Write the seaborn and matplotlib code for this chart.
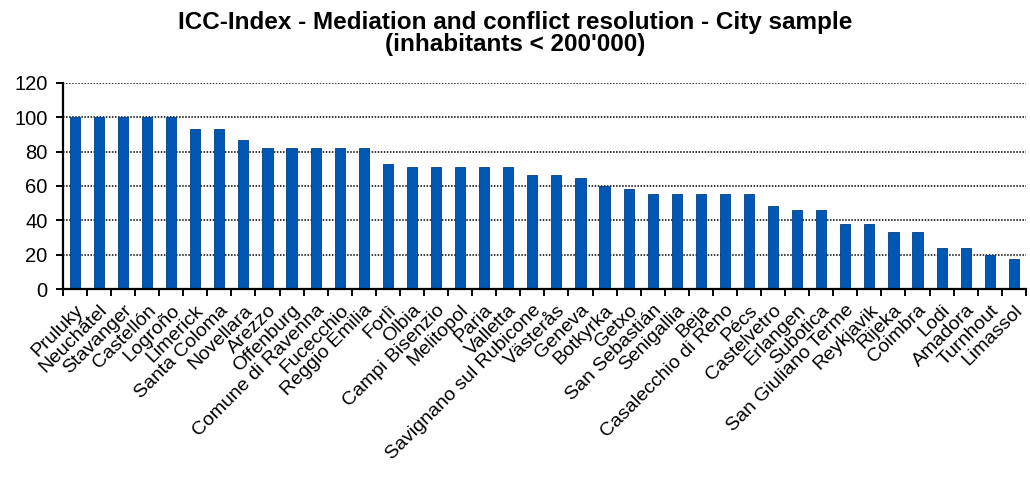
import matplotlib
matplotlib.use("Agg")
import matplotlib.pyplot as plt
import seaborn as sns
import pandas as pd
import numpy as np

cities = [
    "Pruluky", "Neuchâtel", "Stavanger", "Castellón", "Logroño", "Limerick",
    "Santa Coloma", "Novellara", "Arezzo", "Offenburg", "Comune di Ravenna",
    "Fucecchio", "Reggio Emilia", "Forlì", "Olbia", "Campi Bisenzio",
    "Melitopol", "Paria", "Valletta", "Savignano sul Rubicone", "Västerås",
    "Geneva", "Botkyrka", "Getxo", "San Sebastián", "Senigallia", "Beja",
    "Casalecchio di Reno", "Pécs", "Castelvetro", "Erlangen", "Subotica",
    "San Giuliano Terme", "Reykjavik", "Rijeka", "Coimbra", "Lodi",
    "Amadora", "Turnhout", "Limassol",
]
scores = [
    100, 100, 100, 100, 100, 93.3, 93.3, 86.7, 82, 82,
    82, 82, 82, 72.5, 70.8, 70.8, 70.8, 70.8, 70.8, 66.5,
    66.5, 64.5, 60, 58, 55.4, 55.4, 55.4, 55.4, 55.4, 48.3,
    46.3, 46.3, 37.8, 37.8, 33.3, 33.3, 24.2, 24.2, 19.8, 17.6,
]
yticks = [0, 20, 40, 60, 80, 100, 120]

df = pd.DataFrame({"city": cities, "score": scores})

sns.set_style("white")
plt.rcParams["font.family"] = ["Liberation Sans", "DejaVu Sans"]
plt.rcParams["text.color"] = "black"
plt.rcParams["xtick.color"] = "black"
plt.rcParams["ytick.color"] = "black"

fig = plt.figure(figsize=(10.3, 4.78), dpi=100)
ax = fig.add_axes([0.061, 0.395, 0.935, 0.432])

ax.set_axisbelow(True)
ax.yaxis.grid(True, color="black", linestyle=(0, (1, 1)), linewidth=1.1)
sns.barplot(data=df, x="city", y="score", color="#0058b5", saturation=1,
            width=0.42, edgecolor="#003f85", linewidth=0.6, ax=ax)

ax.set_ylim(0, 120)
ax.set_yticks(yticks)
ax.set_xlim(-0.5, len(cities) - 0.5)
ax.set_xlabel("")
ax.set_ylabel("")

for s in ["top", "right"]:
    ax.spines[s].set_visible(False)
for s in ["left", "bottom"]:
    ax.spines[s].set_color("black")
    ax.spines[s].set_linewidth(1.6)

ax.tick_params(axis="y", left=True, length=5, width=1.4, color="black",
               labelsize=14.5, pad=6)
ax.tick_params(axis="x", which="major", bottom=False, length=0, labelsize=14,
               pad=9)
ax.set_xticks(np.arange(-0.5, len(cities), 1), minor=True)
ax.tick_params(axis="x", which="minor", bottom=True, length=5, width=1.4,
               color="black")
plt.setp(ax.get_xticklabels(), rotation=45, ha="right",
         rotation_mode="anchor")

fig.suptitle("ICC-Index - Mediation and conflict resolution - City sample\n"
             "(inhabitants < 200'000)", fontsize=17.5, fontweight="bold",
             y=0.978, linespacing=0.95)

fig.savefig("out.png", dpi=100)
